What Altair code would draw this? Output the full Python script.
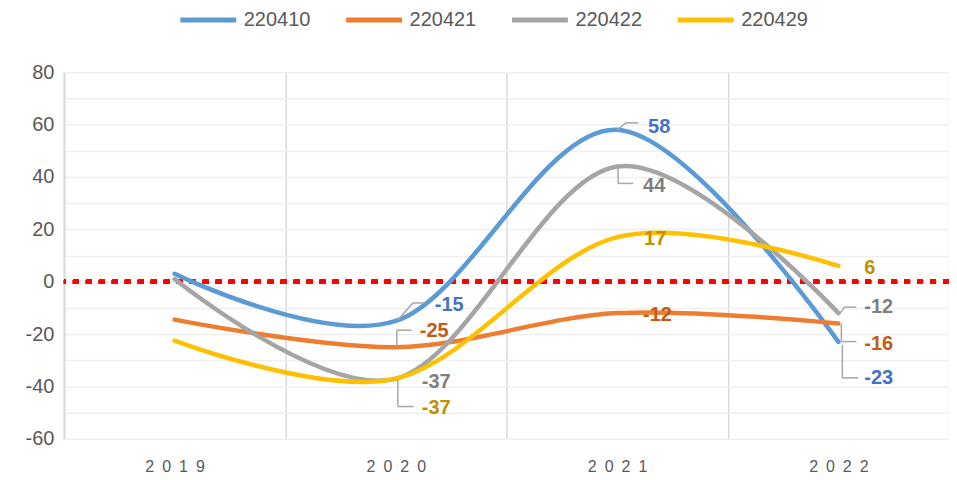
import altair as alt
import pandas as pd

years = ["2019", "2020", "2021", "2022"]
series_names = ["220410", "220421", "220422", "220429"]
v_220410 = [3, -15, 58, -23]
v_220421 = [-14.5, -25, -12, -16]
v_220422 = [1, -37, 44, -12]
v_220429 = [-22.5, -37, 17, 6]

line_colors = ["#5B9BD5", "#ED7D31", "#A5A5A5", "#FFC000"]
label_colors = ["#4472C4", "#C55A11", "#7F7F7F", "#BF9000"]
y_ticks = list(range(-60, 81, 10))

rows = []
for name, vals in zip(series_names, [v_220410, v_220421, v_220422, v_220429]):
    for yr, v in zip(years, vals):
        rows.append({"series": name, "year": yr, "value": v})
df = pd.DataFrame(rows)

# label placement styling (pixel offsets from the data point) and leader elbows
label_style = {
    ("220410", "2020"): (39, -16, [(2, -1), (17, -18), (29, -18)]),
    ("220421", "2020"): (24, -16, [(1, -2), (1, -17), (16, -17)]),
    ("220422", "2020"): (26, 3, []),
    ("220429", "2020"): (26, 29, [(2, 1), (2, 28), (18, 28)]),
    ("220410", "2021"): (31, -3, [(0, 0), (9, -7), (21, -7)]),
    ("220422", "2021"): (26, 20, [(1, 1), (1, 17), (16, 17)]),
    ("220429", "2021"): (27, 2, []),
    ("220421", "2021"): (26, 2, []),
    ("220429", "2022"): (26, 2, []),
    ("220422", "2022"): (26, -6, [(1, 1), (6, -6), (18, -6)]),
    ("220421", "2022"): (26, 20, [(3, 0), (3, 18), (18, 18)]),
    ("220410", "2022"): (26, 36, [(4, 3), (4, 36), (20, 36)]),
}

FONT = "Liberation Sans"

x_axis = alt.Axis(
    tickBand="extent", grid=True, gridColor="#D9D9D9", gridWidth=1.5,
    ticks=False, domain=False, labelAngle=0, labelFontSize=16,
    labelColor="#595959", labelPadding=20, title=None, labelFont=FONT,
    labelExpr="join(split(datum.label, ''), '\u2002')",
)
y_axis = alt.Axis(
    values=y_ticks, labelExpr="datum.value % 20 == 0 ? '' + datum.value : ''",
    grid=True, gridColor="#EFEFEF", gridWidth=1.5, ticks=False,
    domainColor="#D9D9D9", domainWidth=2, labelFontSize=20,
    labelColor="#595959", labelPadding=10, title=None, labelFont=FONT,
)
x_scale = alt.Scale(type="band", paddingInner=0, paddingOuter=0, domain=years)
y_scale = alt.Scale(domain=[-60, 80], nice=False, zero=False)

x_enc = alt.X("year:O", scale=x_scale, axis=x_axis, bandPosition=0.5)
y_enc = alt.Y("value:Q", scale=y_scale, axis=y_axis)

base = alt.Chart(df)

zero_rule = base.mark_rule(color="#FF0000", strokeWidth=4, strokeDash=[6, 7]).encode(
    y=alt.Y(datum=0, type="quantitative", scale=y_scale, axis=y_axis)
)

lines = base.mark_line(interpolate="cardinal", strokeWidth=4.5, strokeCap="round").encode(
    x=x_enc,
    y=y_enc,
    color=alt.Color(
        "series:N",
        scale=alt.Scale(domain=series_names, range=line_colors),
        legend=alt.Legend(
            orient="none", legendX=114, legendY=-83, direction="horizontal",
            columns=4, symbolType="stroke", symbolStrokeWidth=5,
            symbolSize=3136, labelFontSize=20, labelColor="#595959",
            labelFont=FONT, columnPadding=25, labelOffset=5, title=None,
        ),
    ),
)

layers = [zero_rule, lines]

for (s, yr), (dx, dy, pts) in label_style.items():
    idx = series_names.index(s)
    sel = (alt.datum.series == s) & (alt.datum.year == yr)
    for (ax, ay), (bx, by) in zip(pts[:-1], pts[1:]):
        seg = base.mark_rule(
            color="#A6A6A6", strokeWidth=1.5,
            xOffset=ax, yOffset=ay, x2Offset=bx, y2Offset=by,
        ).encode(
            x=x_enc, x2=alt.X2("year"), y=y_enc, y2=alt.Y2("value")
        ).transform_filter(sel)
        layers.append(seg)
    txt = base.mark_text(
        align="left", baseline="middle", dx=dx, dy=dy, fontSize=20,
        fontWeight="bold", font=FONT, color=label_colors[idx],
    ).encode(
        x=x_enc, y=y_enc, text=alt.Text("label:N")
    ).transform_filter(sel).transform_calculate(label="'' + datum.value")
    layers.append(txt)

chart = alt.layer(*layers).properties(
    width=886, height=367,
    autosize=alt.AutoSizeParams(type="none"),
    padding={"left": 56, "top": 64, "right": 0, "bottom": 41},
).configure_view(stroke=None)

chart.save("out.html", embed_options={"renderer": "svg", "actions": False})
